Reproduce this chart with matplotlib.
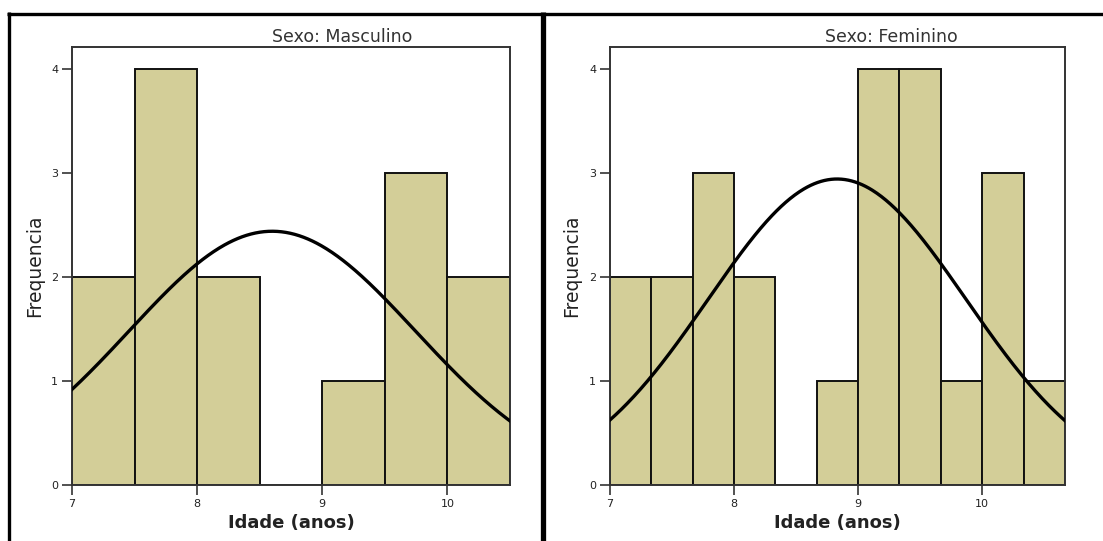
import numpy as np
import matplotlib
matplotlib.use("Agg")
import matplotlib.pyplot as plt
from matplotlib.lines import Line2D

# ---- data ----
masc_title = "Sexo: Masculino"
fem_title = "Sexo: Feminino"
x_label = "Idade (anos)"
y_label = "Frequencia"

masc_edges = [7.0, 7.5, 8.0, 8.5, 9.0, 9.5, 10.0, 10.5]
masc_counts = [2, 4, 2, 0, 1, 3, 2]
masc_mean = 8.6
masc_sd = 1.145

fem_edges = [7.0, 7.333, 7.667, 8.0, 8.333, 8.667, 9.0, 9.333, 9.667, 10.0, 10.333, 10.667]
fem_counts = [2, 2, 3, 2, 0, 1, 4, 4, 1, 3, 1]
fem_mean = 8.83
fem_sd = 1.04

x_ticks = [7, 8, 9, 10]
y_ticks = [0, 1, 2, 3, 4]

BAR = "#d3ce98"
W, H = 1103, 541

fig = plt.figure(figsize=(W / 100, H / 100), dpi=100)
fig.patch.set_facecolor("white")


def px_axes(x0, x1, ytop, ybot):
    return fig.add_axes([x0 / W, 1 - ybot / H, (x1 - x0) / W, (ybot - ytop) / H])


def panel(ax, edges, counts, mean, sd, title, title_cx, ylab_x):
    edges = np.array(edges)
    counts = np.array(counts)
    widths = np.diff(edges)
    ax.bar(edges[:-1], counts, width=widths, align="edge", color=BAR,
           edgecolor="#111111", linewidth=1.4, zorder=2)
    n = counts.sum()
    bw = widths.mean()
    xs = np.linspace(edges[0], edges[-1], 400)
    ys = n * bw / (sd * np.sqrt(2 * np.pi)) * np.exp(-0.5 * ((xs - mean) / sd) ** 2)
    ax.plot(xs, ys, color="black", linewidth=2.4, zorder=3)
    ax.set_xlim(edges[0], edges[-1])
    ax.set_ylim(0, 4.21)
    ax.set_xticks(x_ticks)
    ax.set_yticks(y_ticks)
    ax.tick_params(axis="both", direction="out", length=7, width=1.2,
                   color="#333333", labelsize=8, labelcolor="#222222", pad=3)
    for s in ax.spines.values():
        s.set_color("#333333")
        s.set_linewidth(1.4)
    ax.set_xlabel(x_label, fontsize=13, fontweight="bold", color="#222222")
    ax.xaxis.set_label_coords(0.5, -0.066)
    ax.set_ylabel(y_label, fontsize=13.5, color="#222222")
    ax.yaxis.set_label_coords(ylab_x, 0.5)
    fig.text(title_cx / W, 1 - 37 / H, title, ha="center", va="center",
             fontsize=12.5, color="#333333")


ax1 = px_axes(72, 510, 47, 485)
panel(ax1, masc_edges, masc_counts, masc_mean, masc_sd, masc_title, 342, -0.064)

ax2 = px_axes(610, 1065, 47, 485)
panel(ax2, fem_edges, fem_counts, fem_mean, fem_sd, fem_title, 891, -0.063)

# frame lines around the panels
def fline(x0, y0, x1, y1, lw):
    fig.add_artist(Line2D([x0 / W, x1 / W], [1 - y0 / H, 1 - y1 / H],
                          color="black", linewidth=lw, solid_capstyle="butt"))

fline(7, 13.5, W, 13.5, 2.4)
fline(8.5, 12.3, 8.5, H, 2.4)
fline(542.5, 12.3, 542.5, H, 3.8)

fig.savefig("out.png", dpi=100, facecolor="white")
